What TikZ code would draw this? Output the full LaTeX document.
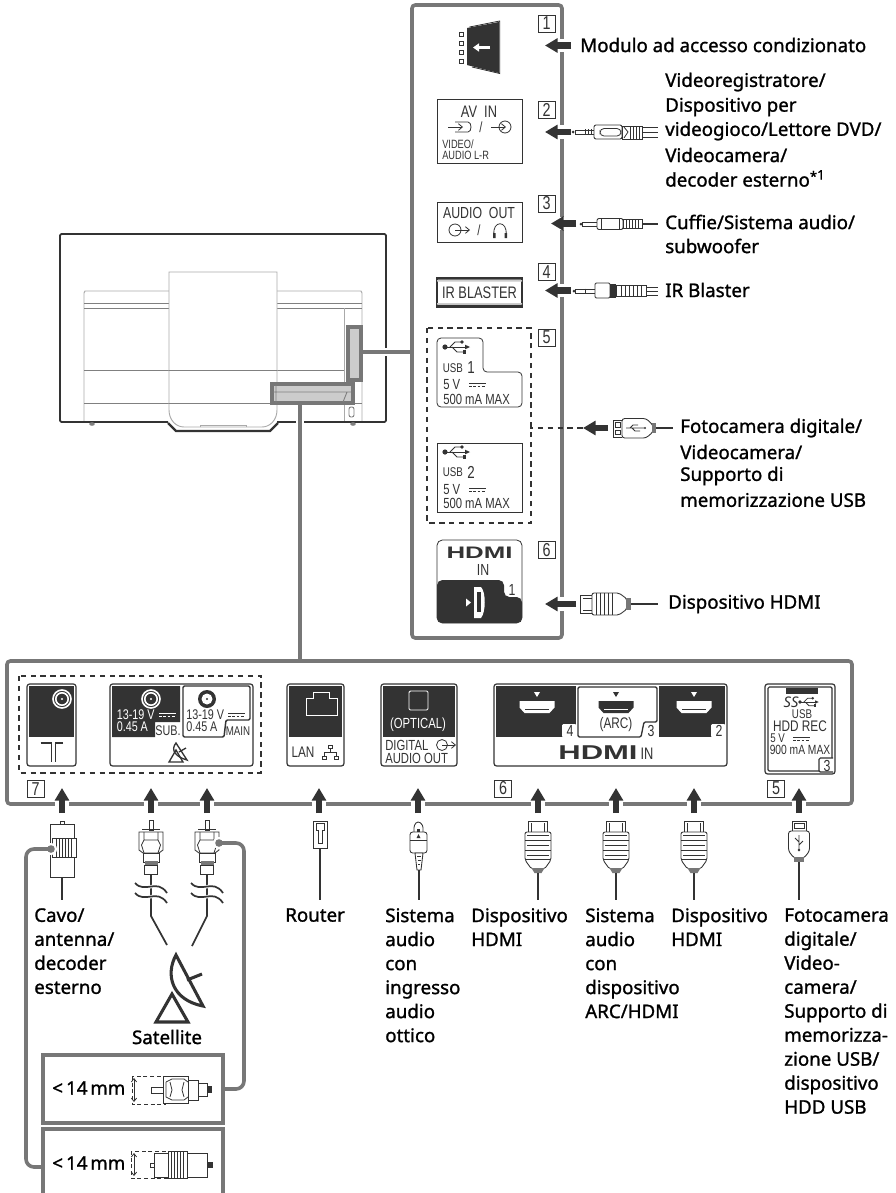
\documentclass[tikz,border=0pt]{standalone}
\usepackage{fontspec}
\usetikzlibrary{arrows.meta}
\setmainfont{Noto Sans}
\newfontfamily\labf[FakeBold=1.2]{Noto Sans}
\newfontfamily\panf[FakeStretch=0.77]{Liberation Sans}
\newfontfamily\logofam[FakeStretch=1.55]{Liberation Sans}
\newcommand\logof{\logofam\bfseries}
\definecolor{pgray}{HTML}{777777}
\definecolor{ink}{HTML}{333333}
\definecolor{tvg}{HTML}{AAAAAA}
\newcommand\fs[1]{\fontsize{#1}{#1}\selectfont}
\tikzset{
  px/.style={x=0.75pt,y=-0.75pt},
  frameline/.style={draw=pgray,line width=2.7pt,rounded corners=2.5pt},
  callout/.style={draw=pgray,line width=2.7pt,rounded corners=6pt},
  halo/.style={draw=white,line width=10pt},
  blockarr/.style={draw=ink,line width=4.6pt,-{Triangle[length=9.5pt,width=10.5pt]}},
  lbl/.style={font=\labf\fontsize{14.05}{18}\selectfont,anchor=west,inner sep=0pt,text=black},
  lblm/.style={lbl,anchor=north west,align=left},
  pnl/.style={font=\panf\fs{12},inner sep=0pt,text=ink},
  pnlw/.style={pnl,text=white},
  badge/.style={draw=ink,line width=.6pt,fill=white,minimum width=12.8pt,minimum height=12.8pt,inner sep=0pt,font=\panf\fs{14},text=ink},
  term/.style={draw=ink,line width=.9pt,rounded corners=2pt,fill=white},
  dk/.style={fill=ink,draw=none},
  tl/.style={draw=ink,line width=.6pt},
  plugw/.style={draw=ink,line width=.65pt,fill=white},
  cable/.style={draw=ink,line width=1.3pt},
  tvout/.style={draw=ink,line width=1.4pt},
  tvin/.style={draw=tvg,line width=.7pt},
  dashbox/.style={draw=ink,line width=1pt,dash pattern=on 4pt off 3.4pt},
}
% arrows (named coordinates at both ends)
\newcommand\leftarr[4]{% name, tail x, y, tip x
  \coordinate (#1t) at (#2,#3); \coordinate (#1h) at (#4,#3);
  \draw[halo] (#2,#3) -- ++(-20,0);
  \draw[blockarr] (#1t) -- (#1h);}
\newcommand\uparr[2]{% name, x
  \coordinate (#1t) at (#2,813); \coordinate (#1h) at (#2,788);
  \draw[halo] (#2,812) -- ++(0,-18);
  \draw[blockarr] (#1t) -- (#1h);}
% icons
\newcommand\usbsym[3]{% x,y,color
 \begin{scope}[shift={(#1,#2)}]
  \fill[#3] (0,0) circle (2.6);
  \draw[#3,line width=.55pt] (0,0) -- (21,0);
  \fill[#3] (25,0) -- (20,-2.3) -- (20,2.3) -- cycle;
  \draw[#3,line width=.55pt] (5,0) -- (10,-5) -- (16,-5);
  \draw[#3,line width=.55pt] (7,0) -- (12,5) -- (19,5);
  \fill[#3] (17,-5) circle (1.8);
  \fill[#3] (18,3.3) rectangle (21,6.7);
 \end{scope}}
\newcommand\dcsym[3]{% x,y,color
 \draw[#3,line width=.6pt] (#1,#2) -- ++(17,0);
 \draw[#3,line width=.6pt,dash pattern=on 2.2pt off 1pt] (#1,#2+3.2) -- ++(17,0);}
\newcommand\hport[4]{% x,y,fill,inner
 \begin{scope}[shift={(#1,#2)}]
  \fill[#3] (-17.5,-6) -- (17.5,-6) -- (17.5,0.5) -- (12.5,6) -- (-12.5,6) -- (-17.5,.5) -- cycle;
  \draw[#4,line width=.9pt] (-12,2.4) -- (12,2.4);
  \fill[#3] (-3,-15) -- (3,-15) -- (0,-10) -- cycle;
 \end{scope}}
\newcommand\coaxW[3]{% x,y,colors
 \draw[#3,line width=1.2pt] (#1,#2) circle (9);
 \draw[#3,line width=1.2pt] (#1,#2) circle (6.2);
 \fill[#3] (#1,#2) circle (1.1);}
\newcommand\hdmiplug[2]{% x,name
 \begin{scope}[shift={(#1,0)}]
  \draw[plugw] (-9.5,832) -- (-9.5,821) -- (9.5,821) -- (9.5,832);
  \draw[tl] (-6.5,823) -- (-6.5,832) (6.5,823) -- (6.5,832);
  \draw[plugw,rounded corners=1.5pt] (-13,832) -- (13,832) -- (13,860) -- (6.5,869) -- (-6.5,869) -- (-13,860) -- cycle;
  \draw[tl] (-11,835) -- (11,835) (-13,840) -- (13,840) (-11,845) -- (11,845) (-13,850) -- (13,850) (-11,855) -- (11,855) (-13,859) -- (13,859);
  \fill[pgray] (-6.5,868) -- (6.5,868) -- (3.5,873) -- (-3.5,873) -- cycle;
  \coordinate (#2) at (0,873);
 \end{scope}}
\newcommand\fplug[2]{% x, name
 \begin{scope}[shift={(#1,0)}]
  \draw[plugw] (-2,830) rectangle (2,820);
  \draw[plugw] (-12,832) -- (12,832) -- (12,850) -- (8,853) -- (-8,853) -- (-12,850) -- cycle;
  \draw[tl] (-7,832) -- (-7,840) -- (-9.5,845) -- (-7,853) (7,832) -- (7,840) -- (9.5,845) -- (7,853) (-7,840) -- (7,840);
  \draw[tl] (-9,829) -- (9,829);
  \draw[plugw] (-8,853) rectangle (8,862);
  \fill[pgray] (-6.5,861) rectangle (6.5,864.5);
  \draw[plugw] (-6.5,865) rectangle (6.5,874);
  \coordinate (#2) at (0,874);
 \end{scope}}
\begin{document}
\begin{tikzpicture}[px]
\useasboundingbox (0,0) rectangle (896,1193);
\fill[white] (0,0) rectangle (896,1193);
% ---------- TV back
\draw[tvin] (84,422) -- (84,293) -- (85,291) -- (361,291) -- (362,293) -- (362,422);
\draw[tvin,draw=gray] (84,303) -- (362,303) (84,308) -- (362,308) (84,370) -- (344,370) (84,403) -- (362,403);
\draw[tvin] (344,308) -- (344,422);
\draw[tvin,fill=white] (169,410) -- (169,272) -- (277,272) -- (277,410) .. controls (277,420) and (270,427) .. (262,427) -- (184,427) .. controls (176,427) and (169,420) .. (169,410) -- cycle;
\draw[tvin,draw=gray] (169,370) -- (277,370) (169,403) -- (277,403);
\draw[tvin] (200,427) -- (200,425) -- (246,425) -- (246,427);
\draw[tvout,rounded corners=1pt] (168,422) -- (60,422) -- (60,234) -- (386,234) -- (386,422) -- (277,422);
\draw[tvout,line width=1.7pt] (168,423) -- (176,431) -- (270,431) -- (278,423);
\fill[gray] (92,424) ellipse (2.8 and 1.8) (353,424) ellipse (2.8 and 1.8);
\draw[tvin,draw=gray,rounded corners=1.5pt] (349,407) rectangle (354,417);
\draw[frameline,fill=white,rounded corners=0pt,fill=tvg!60] (348,327) rectangle (361,380);
\draw[frameline,fill=tvg!60,rounded corners=0pt] (272,384) rectangle (353,403);
\draw[tvin,draw=gray] (273,392) -- (351,392) (276,384.5) -- (276,403) (347,392) -- (343,402);
\coordinate (tvside) at (362,352);
\coordinate (tvbot) at (300,404);
% connector lines
\draw[draw=white,line width=6pt] (368,352) -- (390,352) (300,410) -- (300,430);
\draw[frameline] (tvside) -- (412,352);
\draw[frameline] (tvbot) -- (300,661);
% ---------- right panel
\draw[frameline,fill=white] (412,5) rectangle (562,638);
\node[badge] (b1) at (546.5,23.5) {1};
\node[badge] (b2) at (546.5,109.5) {2};
\node[badge] (b3) at (546.5,203.5) {3};
\node[badge] (b4) at (546.5,272) {4};
\node[badge] (b5) at (546.5,337.5) {5};
\node[badge] (b6) at (546.5,550) {6};
% module
\fill[ink] (467,28) -- (499,22) -- (499,73) -- (467,65) -- cycle;
\draw[ink,line width=.6pt] (469.5,27) -- (499.7,21) -- (499.7,73.5) -- (472,67);
\foreach \yy in {34,43,52,61} \draw[ink,line width=.6pt] (459.5,\yy-2) rectangle (463.5,\yy+2);
\draw[draw=white,line width=2.4pt,-{Triangle[length=4.5pt,width=6pt]}] (490,47.5) -- (473,47.5);
% AV IN
\draw[tl] (437,99) rectangle (522,163);
\node[pnl] (avin) at (479,112) {\fs{12.5}AV\ \ IN};
\draw[tl,-{Straight Barb[length=3pt,width=5pt]}] (448,127) -- (463,127);
\draw[tl] (455,122) -- (468,122) .. controls (472,122) and (472,132) .. (468,132) -- (455,132);
\node[pnl] (avslash) at (481,127) {\fs{11}/};
\draw[tl,-{Straight Barb[length=3pt,width=5pt]}] (491,127) -- (506,127);
\draw[tl] (505,127) circle (6);
\node[pnl,anchor=west] (avvid) at (442,144) {\fs{9}VIDEO/};
\node[pnl,anchor=west] (avaud) at (442,155) {\fs{9}AUDIO L-R};
% AUDIO OUT
\draw[tl] (437,202) rectangle (522,242);
\node[pnl] (aout) at (479,213) {\fs{12}AUDIO\ \ OUT};
\draw[tl] (455,230) circle (6);
\draw[tl,-{Straight Barb[length=3pt,width=5pt]}] (455,230) -- (470,230);
\node[pnl] (aoslash) at (479,230.5) {\fs{11}/};
\draw[tl] (494,235) .. controls (492,220) and (508,220) .. (506,235);
\fill[ink] (493,233) rectangle (495.5,238) (504.5,233) rectangle (507,238);
% IR BLASTER
\draw[tl,line width=.9pt] (437,278) rectangle (522,307);
\fill[ink] (437,277) rectangle (522,279.5) (437,304.5) rectangle (522,307.5);
\fill[ink!25] (437,280) rectangle (522,281.5) (437,303) rectangle (522,304.5);
\node[pnl] (ir) at (479.5,293) {\fs{12.5}IR BLASTER};
% USB group
\draw[dashbox] (427,328) rectangle (531,523);
\draw[tl,rounded corners=3pt] (522,407) -- (437,407) -- (437,338) -- (483,338) -- (483,372) -- (522,372) -- cycle;
\usbsym{445}{347}{ink}
\node[pnl,anchor=west] (u1a) at (442.5,368) {\fs{9.5}USB};
\node[pnl,anchor=west] (u1b) at (467,368) {\fs{13}1};
\node[pnl,anchor=west] (u1c) at (443,385) {\fs{11}5 V};
\dcsym{469}{383.5}{ink}
\node[pnl,anchor=west] (u1d) at (443,399) {\fs{11}500 mA MAX};
\draw[tl] (437,443) rectangle (522,512);
\usbsym{445}{452}{ink}
\node[pnl,anchor=west] (u2a) at (442.5,472) {\fs{9.5}USB};
\node[pnl,anchor=west] (u2b) at (467,472) {\fs{13}2};
\node[pnl,anchor=west] (u2c) at (443,490) {\fs{11}5 V};
\dcsym{469}{488}{ink}
\node[pnl,anchor=west] (u2d) at (443,503) {\fs{11}500 mA MAX};
% HDMI IN 1
\draw[tl,rounded corners=4pt] (437,540) rectangle (522,623);
\fill[ink,rounded corners=4pt] (437,623) -- (437,580) -- (504,580) -- (504,597) -- (522,597) -- (522,623) -- cycle;
\node[pnl,text=ink,font=\logof\fs{12.5}] (hd1) at (479.5,552.5) {HDMI};
\node[pnl] (hd1in) at (483,569.5) {\fs{12}IN};
\node[pnl] (hd1n) at (512,590) {\fs{12}1};
\fill[white] (474,587) -- (481,587) .. controls (486,592) and (486,612) .. (481,618) -- (474,618) -- cycle;
\fill[ink] (477,592) rectangle (481,612);
\fill[white] (466,598.5) -- (471,602.5) -- (466,606.5) -- cycle;
% ---------- right labels and plugs
\node[lbl] (t1) at (580,45) {Modulo ad accesso condizionato};
\node[lbl] (t2a) at (665,82) {Videoregistratore/};
\node[lbl] (t2b) at (665,107) {Dispositivo per};
\node[lbl] (t2c) at (665,131) {videogioco/Lettore DVD/};
\node[lbl] (t2d) at (665,155) {Videocamera/};
\node[lbl] (t2e) at (665,178.5) {decoder esterno\textsuperscript{\raisebox{-1pt}{*}1}};
\node[lbl] (t3a) at (665,222) {Cuffie/Sistema audio/};
\node[lbl] (t3b) at (665,246) {subwoofer};
\node[lbl] (t4) at (665,290) {IR Blaster};
\node[lbl] (t5a) at (680,428) {Fotocamera digitale/};
\node[lbl] (t5b) at (680,452) {Videocamera/};
\node[lbl] (t5c) at (680,476) {Supporto di};
\node[lbl] (t5d) at (680,500) {memorizzazione USB};
\node[lbl] (t6) at (668,604) {Dispositivo HDMI};
\leftarr{a1}{571}{45.5}{545}
\leftarr{a2}{571}{132}{545}
\leftarr{a3}{576}{223.5}{551}
\leftarr{a4}{571}{290.5}{545}
\coordinate (u5) at (531,428);
\draw[draw=ink,line width=.9pt,dash pattern=on 4pt off 3.4pt] (531,425) -- (531,428) -- (583,428);
\leftarr{a5}{608}{428}{583}
\leftarr{a6}{576}{604}{545}
% plug 2
\draw[plugw] (575,130) rectangle (594,134); \fill[ink] (573,132) circle (1.5);
\draw[tl] (585,129) -- (585,135) (588,129) -- (588,135) (591,129) -- (591,135);
\draw[plugw,rounded corners=1.5pt] (594,125) rectangle (622,139);
\draw[tl,rounded corners=3pt] (600,128.5) rectangle (621,136);
\draw[plugw] (622,126) rectangle (642,139);
\foreach \xx in {630,633,636,639} \draw[tl] (\xx,126) -- (\xx,139);
\draw[tl] (624,127) -- (628,132) -- (624,138);
\draw[tl] (642,127) -- (658,127) (642,132) -- (658,132) (642,137) -- (658,137);
% plug 3
\draw[plugw] (582,222) rectangle (597,226); \fill[ink] (581,224) circle (1.5);
\draw[plugw,rounded corners=1.5pt] (597,218.5) rectangle (623,229.5);
\draw[tl] (601,218.5) -- (601,229.5) (619,218.5) -- (619,229.5);
\draw[plugw] (623,219.5) rectangle (642,228.5);
\foreach \xx in {626,629,632,635,638} \draw[tl] (\xx,219.5) -- (\xx,228.5);
\draw[cable] (642,224) -- (658,224);
% plug 4
\draw[plugw] (575,289) rectangle (595,293); \fill[ink] (574,291) circle (1.5);
\draw[tl] (585,288.5) -- (585,293.5);
\draw[plugw,rounded corners=1pt] (595,283) rectangle (610,298);
\fill[ink] (610,283.5) rectangle (616,297.5);
\draw[plugw] (616,285) rectangle (646,296);
\foreach \xx in {621,625,629,633,637,641} \draw[tl] (\xx,285) -- (\xx,296);
\draw[tl] (646,287) -- (658,287) (646,291) -- (658,291) (646,295) -- (658,295);
% USB plug side
\draw[plugw] (622,420) -- (613,420) -- (613,437) -- (622,437);
\draw[tl] (615.5,422.5) rectangle (620,427) (615.5,430) rectangle (620,434.5);
\draw[plugw,rounded corners=2pt] (622,418.5) -- (646,418.5) -- (653,425) -- (653,432) -- (646,438) -- (622,438) -- cycle;
\draw[tl] (626,428) -- (644,428) (630,428) -- (633,425) -- (638,425) (632,428) -- (635,431) -- (640,431);
\fill[ink] (645,428) circle (1.2);
\fill[pgray] (652,423) rectangle (656,433);
\coordinate (uplug) at (656,428);
\coordinate (uend) at (673,428);
\draw[cable] (uplug) -- (uend);
% HDMI plug side
\draw[plugw] (592,595) -- (580,595) -- (580,613) -- (592,613);
\draw[tl] (583,598) -- (592,598) (583,610) -- (592,610);
\draw[plugw,rounded corners=1.5pt] (592,593) -- (619,593) -- (627,599) -- (627,609) -- (619,615) -- (592,615) -- cycle;
\foreach \xx in {596,600,604,608,612} \draw[tl] (\xx,593) -- (\xx,615);
\fill[pgray] (626,598) rectangle (631,610);
\coordinate (hp) at (631,604);
\coordinate (hpend) at (658,604);
\draw[cable] (hp) -- (hpend);
% ---------- bottom panel
\draw[frameline,fill=white] (7,661) rectangle (852,804);
\draw[dashbox] (19,676) rectangle (261,773);
\node[badge] (b7) at (35.5,789) {7};
\node[badge] (b6b) at (503,788.5) {6};
\node[badge] (b5b) at (776,788.5) {5};
% antenna terminal
\draw[term] (27,684) rectangle (76,766);
\fill[dk] (29,686) rectangle (74,737);
\coaxW{62}{699}{white}
\draw[tl,line width=1pt] (40.5,743) -- (51.5,743) -- (51.5,762) (63,743) -- (55.5,743) -- (55.5,762);
% satellite terminal
\draw[term] (110,684) rectangle (253,766);
\fill[dk] (112,686) -- (180,686) -- (180,722) -- (155,722) -- (155,737) -- (112,737) -- cycle;
\coaxW{151}{699}{white}
\draw[ink,line width=1.1pt,rounded corners=1pt] (183,686) -- (250,686) -- (250,720) -- (226,720) -- (224,737) -- (183,737) -- cycle;
\fill[ink] (207,699) circle (9); \fill[white] (207,699) circle (5.5); \fill[ink] (207,699) circle (1.2);
\node[pnlw,anchor=west] (s1) at (116.5,715) {\fs{10.5}13-19 V};
\dcsym{159}{713}{white}
\node[pnlw,anchor=west] (s2) at (116.5,727) {\fs{10.5}0.45 A};
\node[pnl] (s3) at (168,731) {\fs{10.5}SUB.};
\node[pnl,anchor=west] (s4) at (186,715) {\fs{10.5}13-19 V};
\dcsym{228}{713}{ink}
\node[pnl,anchor=west] (s5) at (186,727) {\fs{10.5}0.45 A};
\node[pnl] (s6) at (238,731) {\fs{9.5}MAIN};
\draw[ink,line width=1pt] (169,762) -- (176,750) -- (183,762) -- cycle;
\draw[ink,line width=1pt] (176,743) .. controls (170,750) and (176,757) .. (187,760) -- cycle;
\draw[ink,line width=1pt] (179,752) -- (186,748);
% LAN terminal
\draw[term] (287,684) rectangle (344,766);
\fill[dk] (289,686) rectangle (342,737);
\draw[white,line width=.7pt] (306,715) -- (306,698) -- (313,698) -- (313,692) -- (329,692) -- (329,698) -- (337,698) -- (337,715) -- cycle;
\node[pnl] (lan) at (303,752) {\fs{11.5}LAN};
\draw[tl] (330,747) -- (330,752) (324,756) -- (324,752) -- (336,752) -- (336,756) ;
\draw[tl,fill=white] (328,745) rectangle (332,748.5) (322,756) rectangle (326,759.5) (334,756) rectangle (338,759.5);
% optical terminal
\draw[term] (381,684) rectangle (457,766);
\fill[dk] (383,686) rectangle (455,737);
\draw[white,line width=.7pt,rounded corners=1pt] (409,691) rectangle (428,710);
\node[pnlw] (op1) at (418,725) {\fs{11}(OPTICAL)};
\node[pnl,anchor=west] (op2) at (385,745.5) {\fs{11}DIGITAL};
\node[pnl,anchor=west] (op3) at (385,758.5) {\fs{11}AUDIO\ OUT};
\draw[tl] (442,745) circle (5.5);
\draw[tl,-{Straight Barb[length=3pt,width=5pt]}] (442,745) -- (456,745);
% HDMI terminal
\draw[term] (494,684) rectangle (727,766);
\fill[dk] (496,686) rectangle (576,737);
\fill[white,rounded corners=1pt] (562,724) rectangle (576.5,737.5);
\hport{537}{707}{white}{ink}
\node[pnl] (h4) at (570,731) {\fs{12}4};
\draw[ink,line width=1pt,rounded corners=1pt] (578,687) -- (657,687) -- (657,722) -- (644,722) -- (641,737) -- (578,737) -- cycle;
\hport{616}{707}{ink}{white}
\node[pnl] (harc) at (616,725) {\fs{11.5}(ARC)};
\node[pnl] (h3) at (651,731) {\fs{12}3};
\fill[dk] (659,686) -- (725,686) -- (725,737) -- (659,737) -- cycle;
\fill[white,rounded corners=1pt] (711,724) rectangle (725.5,737.5);
\hport{694}{707}{white}{ink}
\node[pnl] (h2) at (719,731) {\fs{12}2};
\node[pnl,font=\logof\fs{15}] (hlogo) at (598,753) {HDMI};
\node[pnl] (hin) at (647,754) {\fs{12.5}IN};
% USB 3 terminal
\draw[term] (765,684) rectangle (835,774);
\draw[ink,line width=.9pt,rounded corners=1pt] (768,687) rectangle (832,771);
\fill[ink] (786,688) rectangle (818,694);
\node[pnl,font=\fs{11}\itshape\bfseries] (ss) at (791,702) {SS};
\begin{scope}[shift={(800,702)},scale=.75] \usbsym{0}{0}{ink} \end{scope}
\node[pnl] (h3a) at (802,714) {\fs{9.5}USB};
\node[pnl] (h3b) at (800,726) {\fs{11.5}HDD REC};
\node[pnl,anchor=west] (h3c) at (770,738.5) {\fs{9.5}5 V};
\dcsym{793}{737}{ink}
\node[pnl] (h3d) at (800,750) {\fs{10}900 mA MAX};
\draw[ink,line width=.9pt,rounded corners=1pt,fill=white] (833,758) -- (819,758) -- (819,772) -- (833,772);
\node[pnl] (h3e) at (827,766) {\fs{12}3};
% up arrows
\uparr{u1}{62}\uparr{u2}{151}\uparr{u3}{207}\uparr{u4}{319}\uparr{u5a}{418}
\uparr{u6}{538}\uparr{u7}{616}\uparr{u8}{694}\uparr{u9}{799}
% ---------- bottom plugs
% plug A (F female)
\draw[plugw] (60,821) rectangle (64,825);
\draw[plugw] (50,824) rectangle (74,877);
\draw[plugw] (52,838) rectangle (76,857);
\foreach \xx in {56,59,62,65,68,71} \draw[tl] (\xx,838) -- (\xx,857);
\coordinate (pa) at (62,877);
\coordinate (pae) at (62,900);
\draw[cable] (pa) -- (pae);
% plugs B and C
\fplug{151}{pb}
\fplug{207}{pc}
\coordinate (pbw) at (151,916);
\coordinate (pcw) at (207,916);
\coordinate (pbe) at (167,945);
\coordinate (pce) at (192,946);
\draw[cable,line join=round] (pb) -- (pbw) -- (pbe);
\draw[cable,line join=round] (pc) -- (pcw) -- (pce);
\foreach \xx in {151,207} \foreach \yy in {886,896} {
  \draw[draw=white,line width=2.5pt] (\xx-14,\yy-2) .. controls (\xx-6,\yy+8) and (\xx+6,\yy-8) .. (\xx+14,\yy+7);
  \draw[cable] (\xx-16,\yy-3) .. controls (\xx-6,\yy+8) and (\xx+6,\yy-8) .. (\xx+16,\yy+7);
}
% satellite dish
\draw[ink,line width=2.3pt,line join=miter] (156,1022) -- (172,994) -- (188,1022) -- cycle;
\draw[ink,line width=2.3pt,fill=white,line join=miter] (176,955) .. controls (165,975) and (172,1000) .. (203,1006) -- cycle;
\draw[ink,line width=2.3pt] (187,980) -- (202,974);
\node[lbl,anchor=center] (sat) at (167,1037) {Satellite};
% router
\draw[plugw] (313,821) rectangle (327,848);
\draw[tl] (316,823) -- (324,823) -- (324,830) -- (322,830) -- (322,843) -- (318,843) -- (318,830) -- (316,830) -- cycle;
\coordinate (pr) at (320,848); \coordinate (pre) at (320,900);
\draw[cable] (pr) -- (pre);
% optical
\draw[plugw,rounded corners=2pt] (414,832) -- (414,825) -- (418,821) -- (423,825) -- (423,832);
\fill[ink] (417,829) rectangle (420,832);
\draw[plugw,rounded corners=2pt] (410,832) rectangle (427,853);
\draw[tl] (410,840) -- (427,840); \fill[ink] (418.5,834) -- (416.5,838) -- (420.5,838) -- cycle;
\draw[plugw] (415,853) -- (423,853) -- (421,870) -- (417,870) -- cycle;
\draw[tl] (417,856) -- (421,856) (417.5,860) -- (420.5,860) (418,864) -- (420,864);
\coordinate (po) at (419,870); \coordinate (poe) at (419,900);
\draw[cable] (po) -- (poe);
% HDMI plugs
\hdmiplug{538}{ph1}\hdmiplug{616}{ph2}\hdmiplug{694}{ph3}
\coordinate (ph1e) at (538,900);\coordinate (ph2e) at (616,900);\coordinate (ph3e) at (694,900);
\draw[cable] (ph1) -- (ph1e);
\draw[cable] (ph2) -- (ph2e);
\draw[cable] (ph3) -- (ph3e);
% USB plug vertical
\draw[plugw] (792,831) -- (792,821) -- (806,821) -- (806,831);
\draw[tl] (794,823.5) rectangle (804,828); 
\draw[plugw,rounded corners=2pt] (788.5,831) -- (809.5,831) -- (809.5,851) -- (804,858) -- (794,858) -- (788.5,851) -- cycle;
\draw[tl] (799,835) -- (799,851) (799,842) -- (795,838) (799,845) -- (803,841);
\fill[ink] (799,850) circle (1.3);
\fill[pgray] (794,857) rectangle (804,862);
\coordinate (pu) at (799,862); \coordinate (pue) at (799,900);
\draw[cable] (pu) -- (pue);
% bottom labels
\node[lblm] (lA) at (34,908) {Cavo/\\antenna/\\decoder\\esterno};
\node[lblm] (lR) at (285,908) {Router};
\node[lblm] (lO) at (385,908) {Sistema\\audio\\con\\ingresso\\audio\\ottico};
\node[lblm] (lH1) at (471,908) {Dispositivo\\HDMI};
\node[lblm] (lH2) at (585,908) {Sistema\\audio\\con\\dispositivo\\ARC/HDMI};
\node[lblm] (lH3) at (671,908) {Dispositivo\\HDMI};
\node[lblm] (lU) at (784,908) {Fotocamera\\digitale/\\Video-\\camera/\\Supporto di\\memorizza-\\zione USB/\\dispositivo\\HDD USB};
% detail boxes
\draw[draw=pgray,line width=2.7pt,fill=white] (43,1055) rectangle (223,1123);
\draw[draw=pgray,line width=2.7pt] (43,1193) -- (43,1129) -- (223,1129) -- (223,1193);
\coordinate (boxaE) at (224,1089);
\coordinate (boxbW) at (43,1167);
\node[lbl] (d1) at (52,1088) {<\,14\hspace{.15em}mm};
\node[lbl] (d2) at (52,1163) {<\,14\hspace{.15em}mm};
% detail plug 1
\draw[tl,dash pattern=on 3pt off 2pt] (132,1076) rectangle (165,1104);
\draw[tl,{Straight Barb[length=2.5pt,width=4pt]}-{Straight Barb[length=2.5pt,width=4pt]}] (134,1078) -- (134,1102);
\draw[plugw] (151,1087) rectangle (163,1093);
\draw[plugw] (163,1076) rectangle (188,1103);
\draw[tl] (166,1082) -- (172,1079) -- (184,1079) -- (188,1082) (166,1082) -- (166,1097) -- (172,1100) -- (184,1100) -- (188,1097) (170,1082) -- (172,1090) -- (170,1097) (184,1082) -- (182,1090) -- (184,1097);
\draw[plugw] (188,1080) rectangle (198,1100);
\draw[plugw] (198,1083) rectangle (207,1096);
\fill[ink] (207,1086) rectangle (212,1093);
% detail plug 2
\draw[tl,dash pattern=on 3pt off 2pt] (131,1151) rectangle (168,1178);
\draw[tl,{Straight Barb[length=2.5pt,width=4pt]}-{Straight Barb[length=2.5pt,width=4pt]}] (134,1153) -- (134,1176);
\draw[plugw] (150,1163) rectangle (154,1167);
\draw[plugw] (154,1153) rectangle (207,1177);
\draw[plugw] (168,1151) rectangle (187,1178);
\foreach \xx in {171,174,177,180,183} \draw[tl] (\xx,1151) -- (\xx,1178);
\fill[ink] (207,1162) rectangle (213,1168);
% callouts
\coordinate (dotC) at (219,843);
\coordinate (dotA) at (51,849);
\fill[white] (dotC) circle (6) (dotA) circle (6);
\draw[callout] (boxaE) -- (244,1089) -- (244,843) -- (dotC);
\fill[pgray] (dotC) circle (3.8);
\draw[callout] (boxbW) -- (26,1167) -- (26,849) -- (dotA);
\fill[pgray] (dotA) circle (3.8);
\end{tikzpicture}
\end{document}
